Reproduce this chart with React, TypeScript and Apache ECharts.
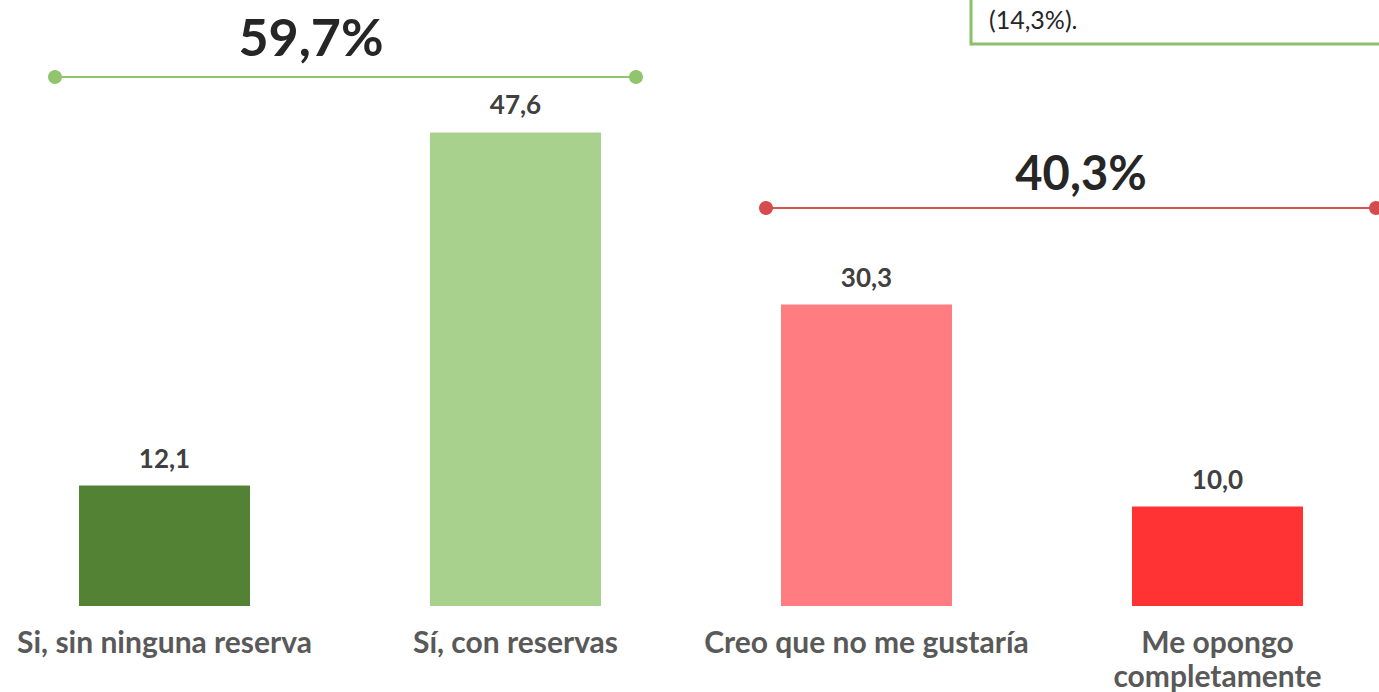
import React, { useEffect, useRef } from "react";
import * as echarts from "echarts";

const categories = [
  "Si, sin ninguna reserva",
  "Sí, con reservas",
  "Creo que no me gustaría",
  "Me opongo completamente",
];
const values = [12.1, 47.6, 30.3, 10.0];
const barColors = ["#548235", "#A9D18E", "#FF7C80", "#FF3333"];
const groupTotals = ["59,7%", "40,3%"];
const boxText = "(14,3%).";
const wrappedLabelIndex = 3; // the reference breaks this label into two lines

const OFF = 11; // chart container starts 11px left of the page

export default function App() {
  const ref = useRef<HTMLDivElement>(null);
  useEffect(() => {
    if (!ref.current) return;
    const chart = echarts.init(ref.current, null, { renderer: "svg" });
    const font = "Lato, 'Open Sans', sans-serif";
    const X = (x: number) => x + OFF;
    chart.setOption({
      animation: false,
      textStyle: { fontFamily: font },
      grid: { left: 0, right: 0, top: 9, bottom: 84, containLabel: false },
      xAxis: {
        type: "category",
        data: categories,
        axisLine: { show: false },
        axisTick: { show: false },
        axisLabel: {
          interval: 0,
          margin: 18,
          fontSize: 30,
          fontWeight: "bold",
          color: "#595959",
          fontFamily: font,
          lineHeight: 34,
          formatter: (v: string, i: number) => {
            if (i !== wrappedLabelIndex) return v;
            const k = v.lastIndexOf(" ");
            return v.slice(0, k) + "\n" + v.slice(k + 1);
          },
        },
      },
      yAxis: {
        type: "value",
        min: 0,
        max: 60,
        show: false,
        splitLine: { show: false },
      },
      series: [
        {
          type: "bar",
          barWidth: 171,
          data: values.map((v, i) => ({ value: v, itemStyle: { color: barColors[i] } })),
          label: {
            show: true,
            position: "top",
            distance: 15,
            fontSize: 26,
            fontWeight: "bold",
            color: "#404040",
            fontFamily: font,
            formatter: (p: any) => p.value.toFixed(1).replace(".", ","),
          },
        },
      ],
      graphic: [
        // green bracket
        { type: "line", shape: { x1: X(55), y1: 77, x2: X(636), y2: 77 }, style: { stroke: "#92C46E", lineWidth: 2 } },
        { type: "circle", shape: { cx: X(55), cy: 77, r: 7 }, style: { fill: "#92C46E" } },
        { type: "circle", shape: { cx: X(636), cy: 77, r: 7 }, style: { fill: "#92C46E" } },
        {
          type: "text",
          x: X(311),
          y: 36,
          style: {
            text: groupTotals[0],
            fontSize: 52,
            fontWeight: "bold",
            fill: "#262626",
            fontFamily: font,
            align: "center",
            verticalAlign: "middle",
          },
        },
        // red bracket
        { type: "line", shape: { x1: X(766), y1: 208, x2: X(1376), y2: 208 }, style: { stroke: "#D9534F", lineWidth: 2 } },
        { type: "circle", shape: { cx: X(766), cy: 208, r: 7 }, style: { fill: "#D64B4B" } },
        { type: "circle", shape: { cx: X(1376), cy: 208, r: 7 }, style: { fill: "#D64B4B" } },
        {
          type: "text",
          x: X(1081),
          y: 172,
          style: {
            text: groupTotals[1],
            fontSize: 47,
            fontWeight: "bold",
            fill: "#262626",
            fontFamily: font,
            align: "center",
            verticalAlign: "middle",
          },
        },
        // text box at top right
        {
          type: "rect",
          shape: { x: X(971), y: -10, width: 430, height: 54 },
          style: { fill: "#ffffff", stroke: "#8CBF6B", lineWidth: 3 },
        },
        {
          type: "text",
          x: X(989),
          y: 19,
          style: {
            text: boxText,
            fontSize: 25,
            fill: "#262626",
            fontFamily: font,
            align: "left",
            verticalAlign: "middle",
          },
        },
      ],
    });
    return () => chart.dispose();
  }, []);
  return (
    <div
      style={{
        position: "absolute",
        left: 0,
        top: 0,
        width: 1379,
        height: 692,
        overflow: "hidden",
        background: "#fff",
      }}
    >
      <div
        ref={ref}
        style={{ position: "absolute", left: -OFF, top: 0, width: 1404, height: 692 }}
      />
    </div>
  );
}
